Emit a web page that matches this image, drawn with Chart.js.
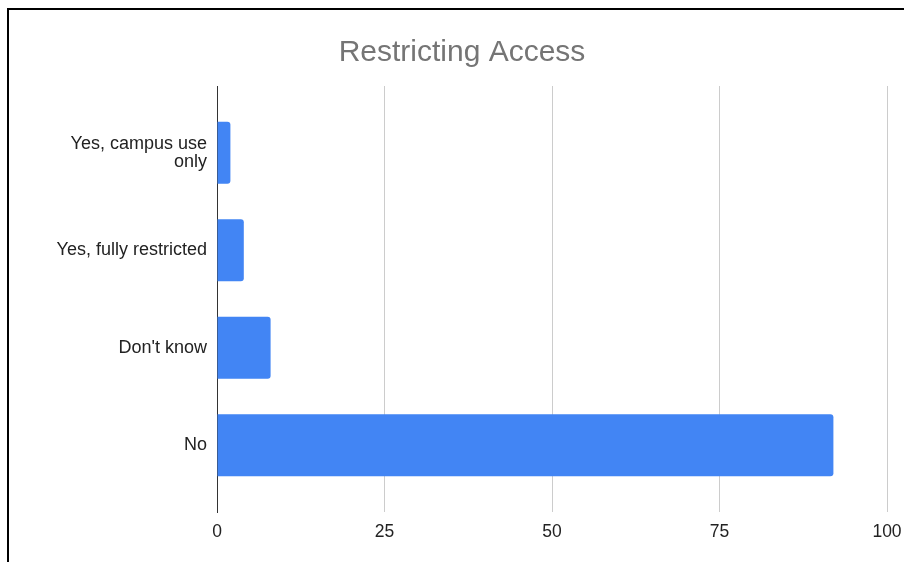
<!DOCTYPE html>
<html>
<head>
<meta charset="utf-8">
<script src="https://cdn.jsdelivr.net/npm/chart.js@4/dist/chart.umd.min.js"></script>
<style>
  html, body { margin: 0; padding: 0; background: #fff; overflow: hidden; }
  body { width: 904px; height: 562px; position: relative; }
  #frame {
    position: absolute; left: 7px; top: 8px; width: 920px; height: 580px;
    border: 2px solid #000; box-sizing: border-box;
  }
  #wrap { position: absolute; left: 9px; top: 10px; width: 906px; height: 560px; }
</style>
</head>
<body>
<div id="frame"></div>
<div id="wrap"><canvas id="chart"></canvas></div>
<script>
/* Restricting Access — horizontal bar chart */

const categories = [["Yes, campus use", "only"], "Yes, fully restricted", "Don't know", "No"];
const counts = [2, 4, 8, 92];
const xTicks = [0, 25, 50, 75, 100];

const FONT = "'Liberation Sans', Arial, Helvetica, sans-serif";

const ctx = document.getElementById("chart");
new Chart(ctx, {
  type: "bar",
  data: {
    datasets: [{
      data: counts.map((v, i) => ({ x: v, y: i })),
      backgroundColor: "#4285F4",
      borderRadius: 3,
      borderSkipped: "left",
      categoryPercentage: 0.8,
      barPercentage: 0.795,
    }],
  },
  options: {
    indexAxis: "y",
    responsive: true,
    maintainAspectRatio: false,
    animation: false,
    layout: { padding: { left: 28, right: 28, top: 0, bottom: 0 } },
    plugins: {
      legend: { display: false },
      tooltip: { enabled: false },
      title: {
        display: true,
        text: "Restricting Access",
        color: "#757575",
        font: { family: FONT, size: 30, weight: "normal" },
        padding: { top: 25, bottom: 15 },
      },
    },
    scales: {
      x: {
        type: "linear",
        min: 0, max: 100,
        afterBuildTicks: s => { s.ticks = xTicks.map(v => ({ value: v })); },
        afterFit: s => { s.height = 58; },
        grid: {
          color: c => (c.tick && c.tick.value === 0 ? "rgba(0,0,0,0)" : "#cccccc"),
          drawTicks: false,
        },
        border: { display: false },
        ticks: { color: "#222", padding: 10, font: { family: FONT, size: 17.5 } },
      },
      y: {
        type: "linear",
        reverse: true,
        offset: false,
        min: -0.685, max: 3.685,
        afterBuildTicks: s => { s.ticks = categories.map((_, i) => ({ value: i })); },
        afterFit: s => { s.width = 180; },
        grid: { display: false, drawTicks: false },
        border: { display: true, color: "#333", width: 1 },
        ticks: {
          color: "#222",
          padding: 10,
          font: { family: FONT, size: 18, lineHeight: 1.0 },
          callback: v => categories[v],
        },
      },
    },
  },
});
</script>
</body>
</html>
